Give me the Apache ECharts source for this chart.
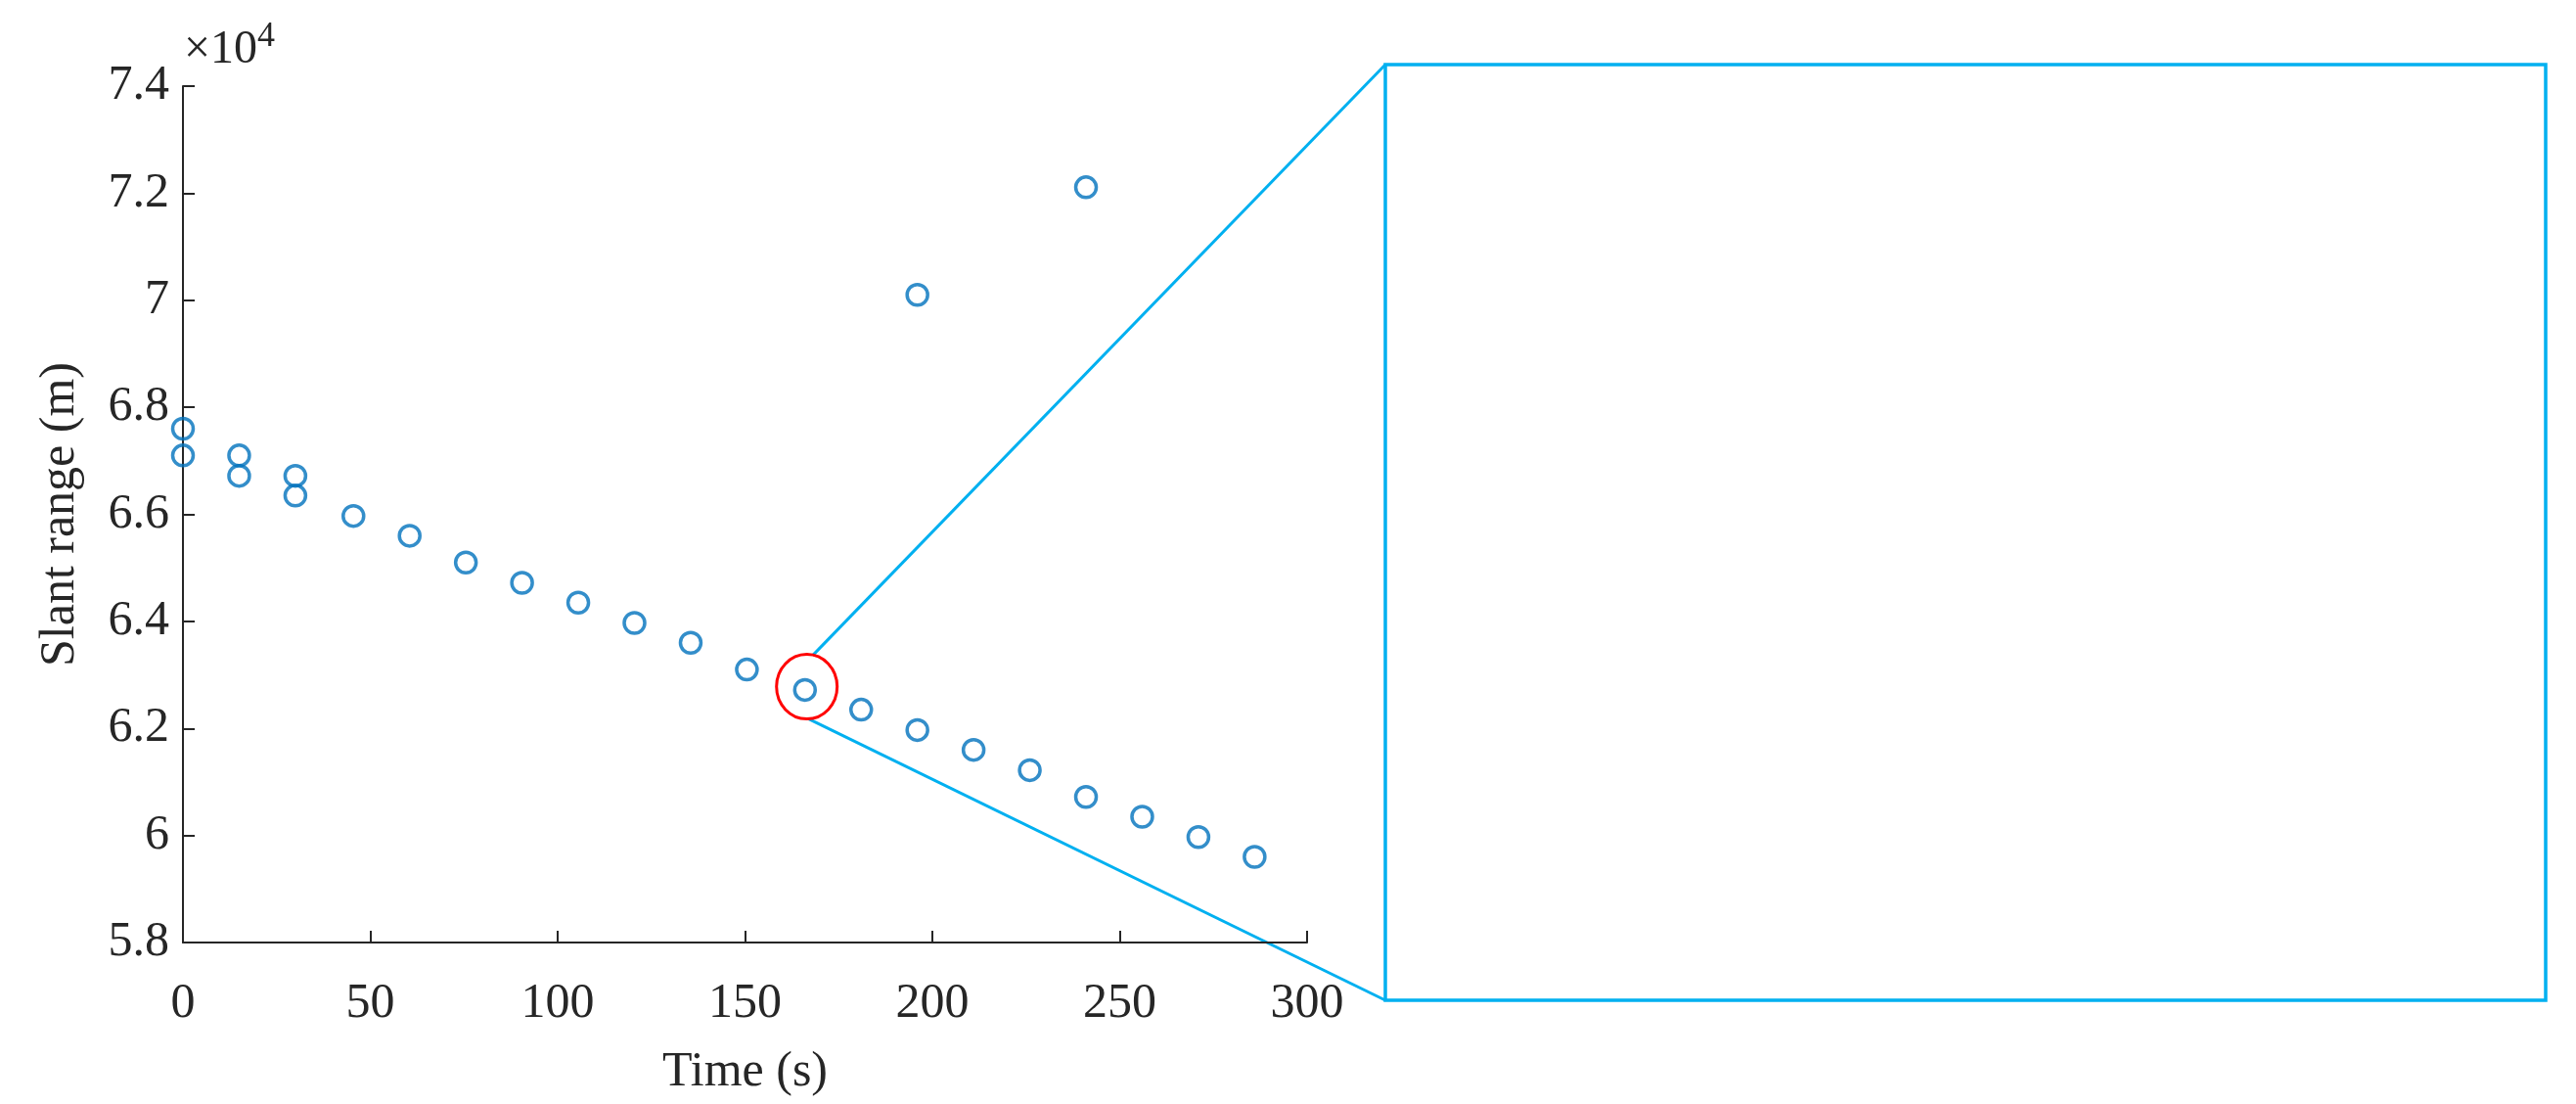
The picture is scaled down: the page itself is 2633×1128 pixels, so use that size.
<!DOCTYPE html>
<html><head><meta charset="utf-8">
<script src="https://cdn.jsdelivr.net/npm/echarts@6/dist/echarts.min.js"></script>
<style>html,body{margin:0;background:#fff}#c{width:2633px;height:1128px}</style>
</head><body><div id="c"></div>
<script>
const times = [0,0,15,15,30,30,45.5,60.5,75.5,90.5,105.5,120.5,135.5,150.5,166,181,196,196,211,226,241,241,256,271,286];
const ranges = [67600,67100,67100,66720,66720,66350,65970,65600,65100,64720,64350,63970,63600,63100,62720,62350,61970,70100,61600,61220,60720,72110,60350,59970,59600];
const zoomCenter = [166.5, 62780];
const font = '"Liberation Serif","DejaVu Serif",serif';
const chart = echarts.init(document.getElementById('c'));
chart.setOption({
  animation:false,
  grid:{left:187,top:88,width:1149,height:875},
  xAxis:{type:'value',min:0,max:300,interval:50,name:'Time (s)',nameLocation:'middle',nameGap:108,
    axisLine:{lineStyle:{color:'#262626',width:2}},axisTick:{inside:true,length:12,lineStyle:{color:'#262626',width:2}},
    axisLabel:{color:'#262626',fontSize:50,fontFamily:font,margin:38},splitLine:{show:false},
    nameTextStyle:{color:'#262626',fontSize:50,fontFamily:font}},
  yAxis:{type:'value',min:58000,max:74000,interval:2000,name:'Slant range (m)',nameLocation:'middle',nameGap:100,
    axisLine:{lineStyle:{color:'#262626',width:2}},axisTick:{inside:true,length:12,lineStyle:{color:'#262626',width:2}},
    axisLabel:{color:'#262626',fontSize:50,fontFamily:font,margin:14,formatter:v=>String(+(v/10000).toFixed(1))},
    splitLine:{show:false},nameTextStyle:{color:'#262626',fontSize:50,fontFamily:font}},
  series:[{type:'scatter',data:times.map((t,i)=>[t,ranges[i]]),symbol:'circle',symbolSize:21,
    itemStyle:{color:'rgba(0,0,0,0)',borderColor:'#0072BD',borderWidth:3.5}}]
});
const c = chart.convertToPixel({gridIndex:0}, zoomCenter);
const rx=31, ry=33;
const box={x:1416,y:66,w:1186,h:956};
chart.setOption({graphic:[
  {type:'text',left:188,top:20,style:{text:'×10{s|4}',rich:{s:{fontSize:36,verticalAlign:'top',padding:[0,0,26,0],fontFamily:font}},fontSize:48,fontFamily:font,fill:'#262626'}},
  {type:'ellipse',shape:{cx:c[0],cy:c[1],rx:rx,ry:ry},style:{fill:null,stroke:'#FF0000',lineWidth:3},z:10},
  {type:'line',shape:{x1:c[0]+6,y1:c[1]-ry+1,x2:box.x,y2:box.y},style:{stroke:'#00B0F0',lineWidth:3}},
  {type:'line',shape:{x1:c[0]+2,y1:c[1]+ry,x2:box.x,y2:box.y+box.h},style:{stroke:'#00B0F0',lineWidth:3}},
  {type:'rect',shape:{x:box.x,y:box.y,width:box.w,height:box.h},style:{fill:null,stroke:'#00B0F0',lineWidth:3.5}}
]});
</script></body></html>
